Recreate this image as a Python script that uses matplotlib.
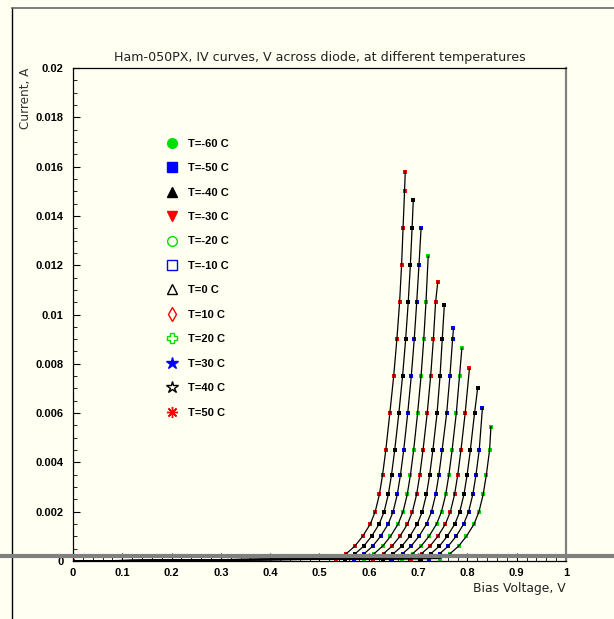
import matplotlib
matplotlib.use("Agg")
import matplotlib.pyplot as plt
from matplotlib.lines import Line2D
from matplotlib.ticker import MultipleLocator, FormatStrFormatter

levels = [0.0001, 0.0003, 0.0006, 0.001, 0.0015, 0.002, 0.0027, 0.0035,
          0.0045, 0.006, 0.0075, 0.009, 0.0105, 0.012, 0.0135, 0.015]

temps = [-60, -50, -40, -30, -20, -10, 0, 10, 20, 30, 40, 50]

# bias voltage (V) at each current level, one list per temperature
v_m60 = [0.744, 0.765, 0.782, 0.798, 0.8135, 0.8235, 0.832, 0.8385, 0.845]
v_m50 = [0.723, 0.744, 0.761, 0.777, 0.7925, 0.8025, 0.811, 0.8175, 0.824]
v_m40 = [0.705, 0.726, 0.743, 0.759, 0.7745, 0.7845, 0.793, 0.7995, 0.806, 0.8145]
v_m30 = [0.686, 0.707, 0.724, 0.740, 0.7555, 0.7655, 0.774, 0.7805, 0.787, 0.7955]
v_m20 = [0.668, 0.689, 0.706, 0.722, 0.7375, 0.7475, 0.756, 0.7625, 0.769, 0.7775, 0.784]
v_m10 = [0.6477, 0.6687, 0.6857, 0.7017, 0.7172, 0.7272, 0.7357, 0.7422, 0.7487,
         0.758, 0.7645, 0.770]
v_0 = [0.629, 0.650, 0.667, 0.683, 0.6985, 0.7085, 0.717, 0.7235, 0.730, 0.7385,
       0.7445, 0.749]
v_10 = [0.609, 0.630, 0.647, 0.663, 0.6785, 0.6885, 0.697, 0.7035, 0.710, 0.7185,
        0.7255, 0.731, 0.7355]
v_20 = [0.590, 0.611, 0.628, 0.644, 0.6595, 0.6695, 0.678, 0.6845, 0.691, 0.699,
        0.706, 0.7115, 0.716]
v_30 = [0.5698, 0.5908, 0.6078, 0.6238, 0.6393, 0.6493, 0.6578, 0.6643, 0.6708,
        0.679, 0.6862, 0.6922, 0.6972, 0.7018]
v_40 = [0.5516, 0.5726, 0.5896, 0.6056, 0.6211, 0.6311, 0.6396, 0.6461, 0.6526,
        0.661, 0.6685, 0.6748, 0.680, 0.6843, 0.6878]
v_50 = [0.5335, 0.5545, 0.5715, 0.5875, 0.603, 0.613, 0.6215, 0.628, 0.6345,
        0.6427, 0.6505, 0.657, 0.6625, 0.6665, 0.6695, 0.6725]

# last measured point of each curve (V, A)
peak_v = [0.8478, 0.8305, 0.8208, 0.8042, 0.7888, 0.7718, 0.7533, 0.740, 0.7205,
          0.706, 0.6903, 0.674]
peak_i = [0.00545, 0.0062, 0.00701, 0.00782, 0.00863, 0.00944, 0.0104, 0.01133,
          0.01237, 0.0135, 0.01465, 0.0158]

volts = [v_m60, v_m50, v_m40, v_m30, v_m20, v_m10, v_0, v_10, v_20, v_30, v_40, v_50]

GREEN = "#00e000"
colors = [GREEN, "blue", "black", "red"] * 3
markers = [
    dict(marker="o", mfc=None, ms=7),
    dict(marker="s", mfc=None, ms=6.5),
    dict(marker="^", mfc=None, ms=7),
    dict(marker="v", mfc=None, ms=7),
    dict(marker="o", mfc="none", ms=7),
    dict(marker="s", mfc="none", ms=6.5),
    dict(marker="^", mfc="none", ms=7),
    dict(marker="d", mfc="none", ms=7),
    dict(marker="P", mfc="none", ms=7.5),
    dict(marker="*", mfc=None, ms=9),
    dict(marker="*", mfc="none", ms=9),
    dict(marker=(8, 2, 0), mfc=None, ms=8),
]

BG = "#fffff2"
fig = plt.figure(figsize=(6.14, 6.19), dpi=100, facecolor=BG)
ax = fig.add_axes([0.1189, 0.0937, 0.8029, 0.7964], facecolor=BG)

for t, v, pv, pi, c in zip(temps, volts, peak_v, peak_i, colors):
    x = [0.0] + v + [pv]
    y = [0.0] + levels[:len(v)] + [pi]
    ax.plot(x, y, linestyle="none", marker="s", ms=2.2, mew=0, color=c, zorder=2)
    ax.plot(x, y, color="black", lw=0.9, zorder=3)

ax.set_xlim(0, 1)
ax.set_ylim(0, 0.02)
ax.xaxis.set_major_locator(MultipleLocator(0.1))
ax.xaxis.set_minor_locator(MultipleLocator(0.02))
ax.yaxis.set_major_locator(MultipleLocator(0.002))
ax.yaxis.set_minor_locator(MultipleLocator(0.0005))
ax.xaxis.set_major_formatter(FormatStrFormatter("%g"))
ax.yaxis.set_major_formatter(FormatStrFormatter("%g"))
ax.tick_params(axis="both", which="both", direction="in", top=False, right=False)
ax.tick_params(axis="x", which="major", length=6, pad=5)
ax.tick_params(axis="x", which="minor", length=3)
ax.tick_params(axis="y", which="major", length=5, pad=7)
ax.tick_params(axis="y", which="minor", length=3)
for lab in ax.get_xticklabels() + ax.get_yticklabels():
    lab.set_fontweight("bold")
    lab.set_fontsize(8)
    lab.set_family("Liberation Sans")

for side in ["left", "top", "bottom"]:
    ax.spines[side].set_color("black")
    ax.spines[side].set_linewidth(0.9)
ax.spines["right"].set_color("#808080")
ax.spines["right"].set_linewidth(1.6)

ax.set_title("Ham-050PX, IV curves, V across diode, at different temperatures",
             fontsize=9.1, pad=5, color="#222222")
ax.set_xlabel("Bias Voltage, V", fontsize=8.9, loc="right", labelpad=3, color="#222222")
ax.set_ylabel("Current, A", fontsize=8.7, color="#333333", ha="right")
ax.yaxis.set_label_coords(-0.083, 1.0)

handles = []
for c, m in zip(colors, markers):
    mfc = c if m["mfc"] is None else m["mfc"]
    handles.append(Line2D([], [], linestyle="none", marker=m["marker"], ms=m["ms"],
                          color=c, mfc=mfc, mec=c, mew=1.0))
labels = [f"T={t} C" for t in temps]
ax.legend(handles, labels, loc="upper left", bbox_to_anchor=(0.169, 0.877),
          frameon=False, handlelength=1.0, handletextpad=0.95, labelspacing=1.3,
          prop=dict(weight="bold", size=8, family="Liberation Sans"))

# gray strip across the whole canvas and outer pad frame
fig.add_artist(Line2D([0, 1], [0.1010, 0.1010], transform=fig.transFigure,
                      color="#808080", lw=3.0, zorder=5))
fig.add_artist(Line2D([0.0195, 0.0195], [0, 0.987], transform=fig.transFigure,
                      color="black", lw=1.0))
fig.add_artist(Line2D([0.0195, 1], [0.987, 0.987], transform=fig.transFigure,
                      color="#666666", lw=1.2))

fig.savefig("out.png", dpi=100, facecolor=BG)
